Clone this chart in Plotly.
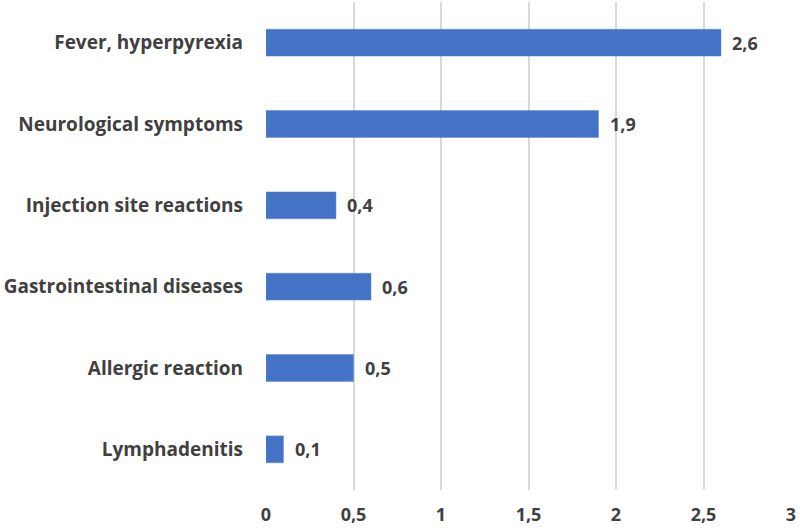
import plotly.graph_objects as go

categories = ["Fever, hyperpyrexia", "Neurological symptoms", "Injection site reactions",
              "Gastrointestinal diseases", "Allergic reaction", "Lymphadenitis"]
values = [2.6, 1.9, 0.4, 0.6, 0.5, 0.1]
value_labels = ["2,6", "1,9", "0,4", "0,6", "0,5", "0,1"]
tick_vals = [0, 0.5, 1, 1.5, 2, 2.5, 3]
tick_text = ["0", "0,5", "1", "1,5", "2", "2,5", "3"]

font_family = "Open Sans, Liberation Sans, sans-serif"
text_color = "#404040"

fig = go.Figure(go.Bar(
    x=values, y=categories, orientation="h",
    marker=dict(color="#4472C4", line=dict(color="#5B8BD9", width=0.5)),
    width=0.33,
))

for v, c, t in zip(values, categories, value_labels):
    fig.add_annotation(x=v, y=c, text=f"<b>{t}</b>", showarrow=False,
                       xanchor="left", xshift=9,
                       font=dict(family=font_family, size=18, color=text_color))

fig.update_layout(
    width=800, height=532,
    margin=dict(l=266, r=9, t=2, b=42),
    paper_bgcolor="white", plot_bgcolor="white",
    showlegend=False,
    font=dict(family=font_family, color=text_color),
)
fig.update_xaxes(range=[0, 3], tickvals=tick_vals, ticktext=[f"<b>{t}</b>" for t in tick_text],
                 showgrid=True, gridcolor="#d9d9d9", gridwidth=1.5, zeroline=False,
                 showline=False, ticks="", ticklabelstandoff=12,
                 tickfont=dict(family=font_family, size=18, color=text_color))
fig.update_yaxes(autorange="reversed", showgrid=False, showline=False, ticks="",
                 ticklabelstandoff=22, tickvals=categories,
                 ticktext=[f"<b>{c}</b>" for c in categories],
                 tickfont=dict(family=font_family, size=19, color=text_color))

fig.write_html("out.html", config={"displayModeBar": False},
               post_script="document.body.style.margin='0';")
